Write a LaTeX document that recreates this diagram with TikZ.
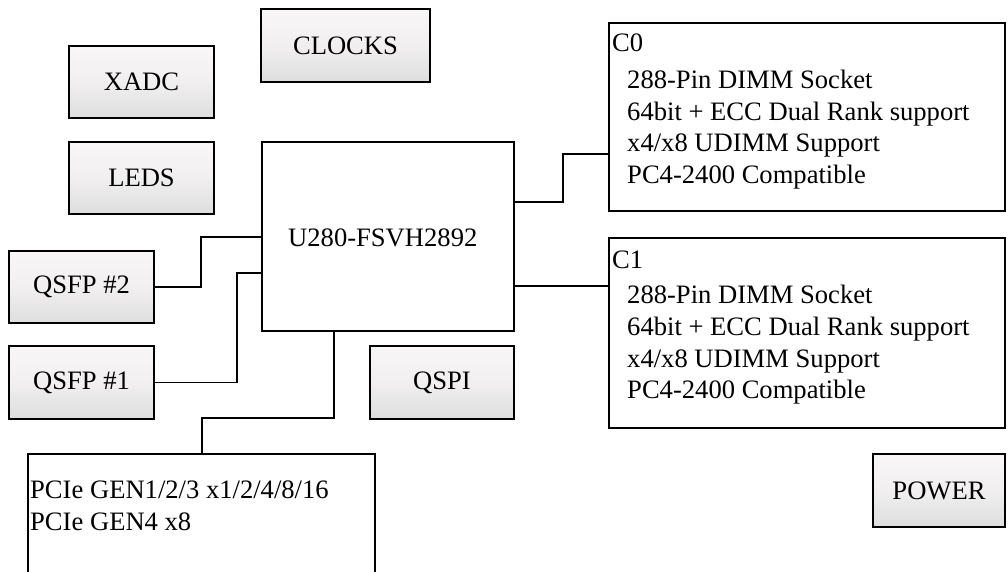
\documentclass[tikz,border=0pt]{standalone}
\usepackage{fontspec}
\setmainfont{Liberation Serif}
\usepackage{tikz}
\usetikzlibrary{positioning}
\usetikzlibrary{calc}
\definecolor{boxtop}{RGB}{248,246,246}
\definecolor{boxmid}{RGB}{241,239,239}
\definecolor{boxbot}{RGB}{222,222,222}

\begin{document}
\begin{tikzpicture}[x=1pt,y=-1pt,
  every node/.style={font=\fontsize{26.6}{31.7}\selectfont},
  blk/.style={draw, line width=2.8pt, top color=boxtop, bottom color=boxbot,
              middle color=boxmid, inner sep=0pt},
  plainblk/.style={draw, line width=2.8pt, fill=white, inner sep=0pt},
  txt/.style={inner sep=0pt, anchor=west, align=left},
  link/.style={line width=1.2pt}]

\useasboundingbox (0,0) rectangle (1008,571);

%---------------------------------------
% Small peripheral blocks
%---------------------------------------
\node[blk, minimum width=145, minimum height=72] (xadc)   at (141.5,82)    {XADC};
\node[blk, minimum width=145, minimum height=72] (leds)   at (141.5,178)   {LEDS};
\node[blk, minimum width=169, minimum height=73] (clocks) at (345.5,45.5)  {CLOCKS};
\node[blk, minimum width=145, minimum height=72] (qsfpB)  at (81.5,287)    {QSFP \#2};
\node[blk, minimum width=145, minimum height=73] (qsfpA)  at (81.5,382.5)  {QSFP \#1};
\node[blk, minimum width=144, minimum height=73] (qspi)   at (442,382.5)   {QSPI};
\node[blk, minimum width=132, minimum height=73] (power)  at (939,490.5)   {POWER};

%---------------------------------------
% FPGA
%---------------------------------------
\node[plainblk, minimum width=252, minimum height=189] (u280) at (388,236.5) {};
\node[txt] (u280lbl) at (288,238) {U280-FSVH2892};

%---------------------------------------
% Memory channels
%---------------------------------------
\node[plainblk, minimum width=396, minimum height=188] (c0) at (807,117) {};
\node[txt] (c0lbl) at (612,43) {C0};
\node[txt] (c0txt) at (627,129.5) {288-Pin DIMM Socket\\64bit + ECC Dual Rank support\\x4/x8 UDIMM Support\\PC4-2400 Compatible};

\node[plainblk, minimum width=396, minimum height=190] (c1) at (807,333) {};
\node[txt] (c1lbl) at (612,260) {C1};
\node[txt] (c1txt) at (627,345) {288-Pin DIMM Socket\\64bit + ECC Dual Rank support\\x4/x8 UDIMM Support\\PC4-2400 Compatible};

%---------------------------------------
% PCIe (runs off the page)
%---------------------------------------
\node[plainblk, minimum width=347, minimum height=146] (pcie) at (201.5,527) {};
\node[txt] (pcietxt) at (30,506) {PCIe GEN1/2/3 x1/2/4/8/16\\PCIe GEN4 x8};

%---------------------------------------
% Connections
%---------------------------------------
\coordinate (c0bend) at (563,202);
\coordinate (c0in)   at (609,154);
\coordinate (c1in)   at (609,286);
\coordinate (qB)     at (201,237);
\coordinate (qA)     at (237,273);
\coordinate (pbend)  at (334,418);
\coordinate (pin)    at (202,454);

\draw[link] (u280.east |- c0bend) -- (c0bend) |- (c0.west |- c0in);
\draw[link] (u280.east |- c1in) -- (c1.west |- c1in);
\draw[link] (qsfpB.east) -| (qB) -- (u280.west |- qB);
\draw[link] (qsfpA.east) -| (qA) -- (u280.west |- qA);
\draw[link] (u280.south -| pbend) -- (pbend) -| (pcie.north -| pin);

\end{tikzpicture}
\end{document}
